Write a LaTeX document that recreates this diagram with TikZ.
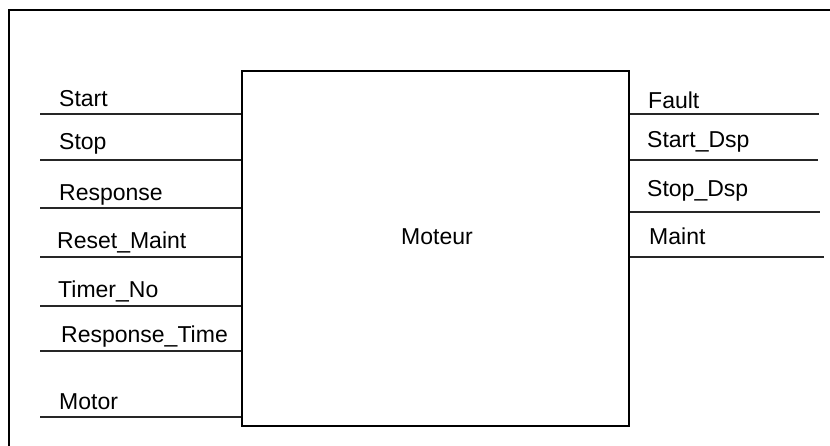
\documentclass[tikz,border=0pt]{standalone}
\usepackage{fontspec}
\setmainfont{Liberation Sans}
\usetikzlibrary{positioning, calc}
\tikzset{
    pinline/.style={line width=1.3pt, draw=black!85},
    pinlabel/.style={anchor=base west, inner sep=0pt, font=\fontsize{23}{27}\selectfont},
}

\begin{document}
\begin{tikzpicture}[x=1pt, y=-1pt]
        \useasboundingbox (0,0) rectangle (830,446);

        % ==========================================
        % FRAME: top and left border
        % ==========================================
        \coordinate (frameTop) at (830,10);
        \coordinate (frameCorner) at (9,10);
        \coordinate (frameBottom) at (9,446);
        \draw[line width=2pt] (frameTop) -- (frameCorner) -- (frameBottom);

        % ==========================================
        % BLOCK: Moteur
        % ==========================================
        \node[draw, line width=1.6pt, minimum width=387pt, minimum height=355pt,
              inner sep=0pt, anchor=north west] (moteur) at (241,70) {};
        \node[pinlabel, anchor=base] (moteurTxt) at (437,245) {Moteur};

        % ==========================================
        % LEFT SIDE: Inputs
        % ==========================================
        % 1. Start
        \coordinate (inStart) at (40,114);
        \draw[pinline] (inStart) -- (inStart -| moteur.west);
        \node[pinlabel] (lblStart) at (59,107) {Start};

        % 2. Stop
        \coordinate (inStop) at (40,160);
        \draw[pinline] (inStop) -- (inStop -| moteur.west);
        \node[pinlabel] (lblStop) at (59,150) {Stop};

        % 3. Response
        \coordinate (inResponse) at (40,208);
        \draw[pinline] (inResponse) -- (inResponse -| moteur.west);
        \node[pinlabel] (lblResponse) at (59,201) {Response};

        % 4. Reset_Maint
        \coordinate (inReset) at (40,257);
        \draw[pinline] (inReset) -- (inReset -| moteur.west);
        \node[pinlabel] (lblReset) at (57,249) {Reset\_Maint};

        % 5. Timer_No
        \coordinate (inTimer) at (40,306);
        \draw[pinline] (inTimer) -- (inTimer -| moteur.west);
        \node[pinlabel] (lblTimer) at (58,298) {Timer\_No};

        % 6. Response_Time
        \coordinate (inRespTime) at (40,351);
        \draw[pinline] (inRespTime) -- (inRespTime -| moteur.west);
        \node[pinlabel] (lblRespTime) at (61,342) {Response\_Time};

        % 7. Motor
        \coordinate (inMotor) at (40,417);
        \draw[pinline] (inMotor) -- (inMotor -| moteur.west);
        \node[pinlabel] (lblMotor) at (59,409) {Motor};

        % ==========================================
        % RIGHT SIDE: Outputs
        % ==========================================
        % 1. Fault
        \coordinate (outFault) at (819,114);
        \draw[pinline] (outFault -| moteur.east) -- (outFault);
        \node[pinlabel] (lblFault) at (648,109) {Fault};

        % 2. Start_Dsp
        \coordinate (outStartDsp) at (818,160);
        \draw[pinline] (outStartDsp -| moteur.east) -- (outStartDsp);
        \node[pinlabel] (lblStartDsp) at (647,148) {Start\_Dsp};

        % 3. Stop_Dsp
        \coordinate (outStopDsp) at (820,212);
        \draw[pinline] (outStopDsp -| moteur.east) -- (outStopDsp);
        \node[pinlabel] (lblStopDsp) at (647,197) {Stop\_Dsp};

        % 4. Maint
        \coordinate (outMaint) at (824,257);
        \draw[pinline] (outMaint -| moteur.east) -- (outMaint);
        \node[pinlabel] (lblMaint) at (649,245) {Maint};

\end{tikzpicture}
\end{document}
